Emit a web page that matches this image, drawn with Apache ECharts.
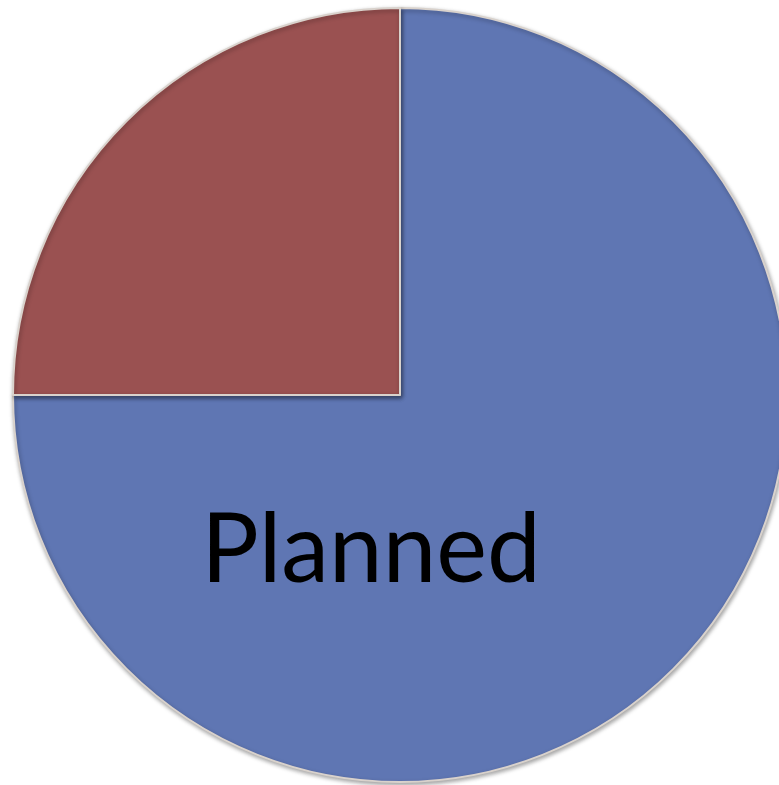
<!DOCTYPE html>
<html>
<head>
<meta charset="utf-8">
<script src="https://cdn.jsdelivr.net/npm/echarts@6/dist/echarts.min.js"></script>
<style>
html,body{margin:0;padding:0;background:#fff;}
#chart{width:779px;height:785px;}
</style>
</head>
<body>
<div id="chart"></div>
<script>
const categories = ["Planned", "Unplanned"];
const values = [75, 25];
const colors = ["#5F76B3", "#9A5151"];
const shownLabels = ["Planned"];

const chart = echarts.init(document.getElementById('chart'));
chart.setOption({
  animation: false,
  backgroundColor: '#ffffff',
  series: [{
    type: 'pie',
    center: [400, 395],
    radius: [0, 387],
    startAngle: 90,
    clockwise: true,
    silent: true,
    itemStyle: {
      borderColor: '#D9D2CC',
      borderWidth: 2,
      shadowColor: 'rgba(0,0,0,0.35)',
      shadowBlur: 4,
      shadowOffsetX: 1,
      shadowOffsetY: 2
    },
    labelLine: { show: false },
    data: categories.map((c, i) => ({
      name: c,
      value: values[i],
      itemStyle: { color: colors[i] },
      label: {
        show: shownLabels.includes(c),
        position: 'center',
        offset: [-29, 156],
        formatter: '{b}',
        fontFamily: 'Lato',
        fontSize: 96,
        fontWeight: 'normal',
        color: '#000000'
      }
    }))
  }]
});
</script>
</body>
</html>
